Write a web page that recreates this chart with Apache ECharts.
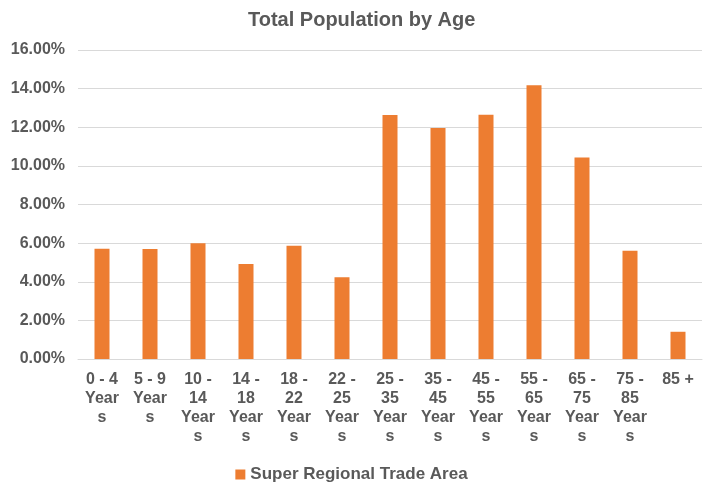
<!DOCTYPE html>
<html>
<head>
<meta charset="utf-8">
<title>Total Population by Age</title>
<script src="https://cdn.jsdelivr.net/npm/echarts@6/dist/echarts.min.js"></script>
<style>
  html, body { margin: 0; padding: 0; background: #fff; }
  #chart { width: 703px; height: 488px; }
</style>
</head>
<body>
<div id="chart"></div>
<script>
// age groups, wrapped the way the original axis shows them
const ageGroups = [
  '0 - 4\nYear\ns', '5 - 9\nYear\ns', '10 -\n14\nYear\ns', '14 -\n18\nYear\ns',
  '18 -\n22\nYear\ns', '22 -\n25\nYear\ns', '25 -\n35\nYear\ns', '35 -\n45\nYear\ns',
  '45 -\n55\nYear\ns', '55 -\n65\nYear\ns', '65 -\n75\nYear\ns', '75 -\n85\nYear\ns', '85 +'
]
// share of population, percent
const tradeArea = [5.71, 5.70, 5.99, 4.92, 5.87, 4.23, 12.64, 11.96, 12.65, 14.17, 10.44, 5.61, 1.41]
const yTicks = { min: 0, max: 16, step: 2 }

const font = 'Arial, "Liberation Sans", sans-serif'
const grey = '#595959'

const chart = echarts.init(document.getElementById('chart'))
chart.setOption({
  animation: false,
  title: {
    text: 'Total Population by Age',
    left: 243,
    top: 5,
    textStyle: { fontFamily: font, fontSize: 20, fontWeight: 'bold', color: grey }
  },
  legend: {
    data: ['Super Regional Trade Area'],
    left: 'center',
    top: 461,
    icon: 'rect',
    itemWidth: 10,
    itemHeight: 10,
    textStyle: { fontFamily: font, fontSize: 17, fontWeight: 'bold', color: grey }
  },
  grid: { left: 78, right: 1, top: 50, bottom: 129, containLabel: false },
  xAxis: {
    type: 'category',
    data: ageGroups,
    axisLine: { lineStyle: { color: '#D9D9D9' } },
    axisTick: { show: false },
    axisLabel: {
      interval: 0,
      margin: 11,
      lineHeight: 19,
      fontFamily: font, fontSize: 16, fontWeight: 'bold', color: grey
    }
  },
  yAxis: {
    type: 'value',
    min: yTicks.min,
    max: yTicks.max,
    interval: yTicks.step,
    axisLine: { show: false },
    axisTick: { show: false },
    splitLine: { lineStyle: { color: '#D9D9D9' } },
    axisLabel: {
      margin: 13,
      formatter: v => v.toFixed(2) + '%',
      fontFamily: font, fontSize: 16, fontWeight: 'bold', color: grey
    }
  },
  series: [{
    name: 'Super Regional Trade Area',
    type: 'bar',
    data: tradeArea,
    barWidth: 15,
    itemStyle: { color: '#ED7D31' }
  }]
})
</script>
</body>
</html>
